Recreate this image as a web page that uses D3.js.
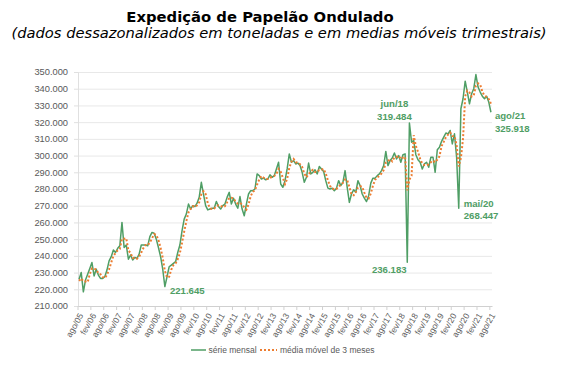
<!DOCTYPE html>
<html><head><meta charset="utf-8">
<script src="https://cdn.jsdelivr.net/npm/d3@7"></script>
<style>
html,body{margin:0;padding:0;background:#fff;}
svg{display:block;}
</style></head><body>
<svg id="chart" width="563" height="367"></svg>
<script>
const title = "Expedição de Papelão Ondulado";
const subtitle = "(dados dessazonalizados em toneladas e em medias móveis trimestrais)";
const monthNames = ["jan","fev","mar","abr","mai","jun","jul","ago","set","out","nov","dez"];
const startYear = 2005, startMonthIndex = 7, monthCount = 193;
const categories = [];
for (let k = 0; k < monthCount; k++) {
  const m = (startMonthIndex + k) % 12;
  const yr = startYear + Math.floor((startMonthIndex + k) / 12);
  categories.push(monthNames[m] + "/" + String(yr % 100).padStart(2, "0"));
}
const tickLabels = ["ago/05","fev/06","ago/06","fev/07","ago/07","fev/08","ago/08","fev/09","ago/09","fev/10","ago/10","fev/11","ago/11","fev/12","ago/12","fev/13","ago/13","fev/14","ago/14","fev/15","ago/15","fev/16","ago/16","fev/17","ago/17","fev/18","ago/18","fev/19","ago/19","fev/20","ago/20","fev/21","ago/21"];
const yTicks = [210,220,230,240,250,260,270,280,290,300,310,320,330,340,350];
const seriesNames = ["série mensal","média móvel de 3 meses"];
// thousand tonnes
const serieMensal = [226,230,218.5,225.5,229,232.5,236,228,232,228.5,
226.5,226.5,227.5,231.5,237,239.5,243.5,242,244.5,246,
260,245,246.5,238,240.5,237.5,239,238.5,241,246.5,
246.5,246.5,246,251.5,254,253.5,250,245,239.5,232,
221.645,227.5,233.5,234.5,235.5,236.5,242,246.5,255,262,
265,271,268,270,269.5,271.5,275,284,277,270,
267.5,268,268.5,268.5,272.5,269.5,268,270,271,275,
278,271,274.5,271,268.5,275.5,268,264,271,277,
279,279,280,289,288,286,286.5,285.5,286,288.5,
287,288,292,296,283,281,285,292,301,296,
297,295,295.5,294,290,284,287,295.5,289,290,
291.5,289,293.5,292,290.5,285,280.5,280,280.5,279,
280.5,285,282,284,291,281,272,277,279.5,278,
285,282,277,274.5,272.5,276,283.5,286.5,286.5,288,
289,291,294,302.5,294,297,298.5,301.5,298,300,
296,300.5,301,236.183,319.484,308,309,300.5,297.5,296,
292,295,296,293,299,299,290,303.5,305,308.5,
311,313.5,313,315,307,313,299,268.447,328,334,
344.5,338,331,337,340,348.5,341,338,335.5,334,
335.5,332,325.918];
const mediaMovel = [225,226.5,224.8,224.7,224.3,229,232.5,232.2,232,229.5,
229,227.2,226.8,228.5,232,236,240,241.7,243.3,244.2,
250.2,250.3,250.5,243.2,241.7,238.7,239,238.3,239.5,242,
244.7,246.5,246.3,248,250.5,253,252.5,249.5,244.8,238.8,
231,227,227.5,231.8,234.5,235.5,238,241.7,247.8,254.5,
260.7,266,268,269.7,269.2,270.3,272,276.8,278.7,277,
271.5,268.5,268,268.3,269.8,270.2,270,269.2,269.7,272,
274.7,274.7,274.5,272.2,271.3,271.7,270.7,269.2,267.7,270.7,
275.7,278.3,279.3,282.7,285.7,287.7,286.8,286,286,286.7,
287.2,287.8,289,292,290.3,286.7,283,286,292.7,296.3,
298,296,295.8,294.8,293.2,289.3,287,288.8,290.5,291.5,
290.2,290.2,291.3,291.5,292,289.2,285.3,281.8,280.3,279.8,
280,281.5,282.5,283.7,285.7,285.3,281.3,276.7,276.2,278.2,
280.8,281.7,281.3,277.8,274.7,274.3,277.3,282,285.5,287,
287.8,289.3,291.3,295.8,296.8,297.8,296.5,299,299.3,299.8,
298,298.8,299.2,279.2,285.6,287.9,312.2,305.8,302.3,298,
295.2,294.3,294.3,294.7,296,297,296,297.5,299.5,305.7,
308.2,311,312.5,313.8,311.7,311.7,306.3,293.5,298.5,310.1,
335.5,338.8,337.8,335.3,336,341.8,343.2,342.5,338.2,335.8,
335,333.8,331.1];
const annotationCats = ["dez/08","mai/18","jun/18","mai/20","ago/21"];
const annotationTexts = [["221.645"],["236.183"],["jun/18","319.484"],["mai/20","268.447"],["ago/21","325.918"]];

const green = "#4f9e65", orange = "#ed7d31", axisText = "#595959";
const svg = d3.select("#chart");
const plotL = 78, plotR = 492, plotT = 72, plotB = 306;
const x = d3.scalePoint().domain(categories).range([plotL, plotR]).padding(0.5);
const y = d3.scaleLinear().domain([210, 350]).range([plotB, plotT]);
const loc = d3.formatLocale({decimal: ",", thousands: ".", grouping: [3], currency: ["R$", ""]});
const fmt = v => loc.format(",.0f")(v * 1000);

// title
svg.append("text").attr("x", 260).attr("y", 22).attr("text-anchor", "middle")
  .style("font-family", "'DejaVu Sans', Verdana, sans-serif").style("font-weight", "bold")
  .style("font-size", "14.8px").attr("fill", "#000").text(title);
svg.append("text").attr("x", 279).attr("y", 38).attr("text-anchor", "middle")
  .style("font-family", "'DejaVu Sans', Verdana, sans-serif").style("font-style", "italic")
  .style("font-size", "14.7px").attr("fill", "#000").text(subtitle);

// gridlines
const grid = svg.append("g").attr("transform", `translate(${plotL},0)`)
  .call(d3.axisLeft(y).tickValues(yTicks).tickSize(-(plotR - plotL)).tickFormat(""));
grid.select(".domain").remove();
grid.selectAll(".tick line").attr("stroke", "#e8e8e8").attr("stroke-width", 1);

// y axis
const yAx = svg.append("g").attr("transform", `translate(${plotL},0)`)
  .call(d3.axisLeft(y).tickValues(yTicks).tickSize(4).tickPadding(6).tickFormat(fmt));
yAx.select(".domain").attr("stroke", "#e0e0e0");
yAx.selectAll(".tick line").attr("stroke", "#e0e0e0");
yAx.selectAll(".tick text").attr("fill", axisText)
  .style("font-family", "'Liberation Sans', Arial, sans-serif").style("font-size", "9.3px");

// x axis
const xAx = svg.append("g").attr("transform", `translate(0,${plotB})`)
  .call(d3.axisBottom(x).tickValues(tickLabels).tickSize(0).tickFormat(""));
xAx.select(".domain").attr("stroke", "#d0d0d0");
const step = x.step();
xAx.selectAll(".tickmark").data(tickLabels).join("line").attr("class", "tickmark")
  .attr("x1", d => x(d) - step / 2).attr("x2", d => x(d) - step / 2)
  .attr("y1", 0).attr("y2", 4).attr("stroke", "#d0d0d0");
xAx.selectAll(".xlab").data(tickLabels).join("text").attr("class", "xlab")
  .attr("transform", d => `translate(${x(d) + 2},${8}) rotate(-60)`)
  .attr("text-anchor", "end").attr("dy", "0.35em").attr("fill", axisText)
  .style("font-family", "'Liberation Sans', Arial, sans-serif").style("font-size", "8.5px")
  .text(d => d);

// lines
const line = d3.line().x((d, i) => x(categories[i])).y(d => y(d));
svg.append("path").datum(serieMensal).attr("d", line).attr("fill", "none")
  .attr("stroke", green).attr("stroke-width", 1.5).attr("stroke-linejoin", "round");
svg.append("path").datum(mediaMovel).attr("d", line).attr("fill", "none")
  .attr("stroke", orange).attr("stroke-width", 2).attr("stroke-dasharray", "2,2");

// annotations
const annStyle = {
  "dez/08": {dx: 5, dy: [7], anchor: "start"},
  "mai/18": {dx: -18, dy: [11], anchor: "middle"},
  "jun/18": {dx: -15, dy: [-16, -3.5], anchor: "middle"},
  "mai/20": {dx: 5, dy: [-1.5, 10.5], anchor: "start"},
  "ago/21": {dx: 4, dy: [6.5, 19.5], anchor: "start"}
};
annotationCats.forEach((c, k) => {
  const i = categories.indexOf(c);
  const px = x(c), py = y(serieMensal[i]);
  const st = annStyle[c];
  annotationTexts[k].forEach((t, j) => {
    svg.append("text").attr("x", px + st.dx).attr("y", py + st.dy[j])
      .attr("text-anchor", st.anchor).attr("fill", green)
      .style("font-family", "'Liberation Sans', Arial, sans-serif").style("font-weight", "bold")
      .style("font-size", "9.6px").text(t);
  });
});

// legend
const lg = svg.append("g");
lg.append("line").attr("x1", 191).attr("x2", 206).attr("y1", 350).attr("y2", 350)
  .attr("stroke", green).attr("stroke-width", 1.5);
lg.append("text").attr("x", 208.5).attr("y", 353).text(seriesNames[0]);
lg.append("line").attr("x1", 260).attr("x2", 277).attr("y1", 350).attr("y2", 350)
  .attr("stroke", orange).attr("stroke-width", 2).attr("stroke-dasharray", "2,2");
lg.append("text").attr("x", 280).attr("y", 353).text(seriesNames[1]);
lg.selectAll("text").attr("fill", axisText)
  .style("font-family", "'Liberation Sans', Arial, sans-serif").style("font-size", "8.5px");
</script>
</body></html>
